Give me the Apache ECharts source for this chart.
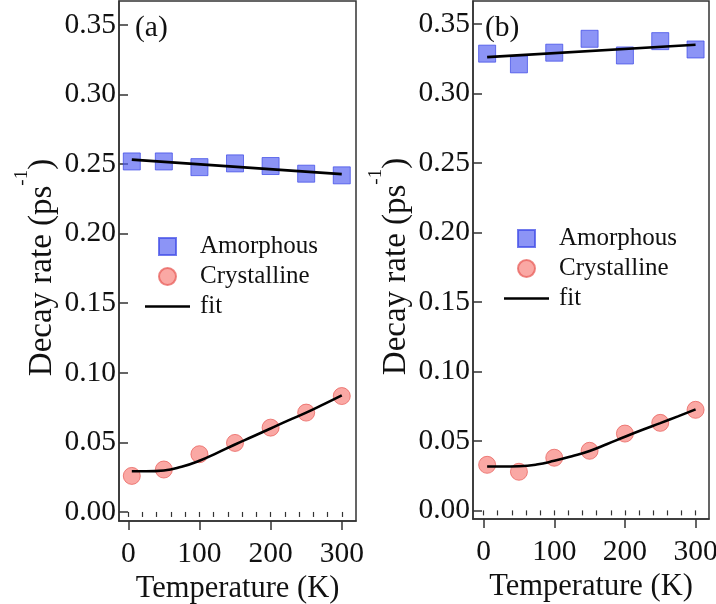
<!DOCTYPE html>
<html>
<head>
<meta charset="utf-8">
<script src="https://cdn.jsdelivr.net/npm/echarts@6/dist/echarts.min.js"></script>
<style>
  html, body { margin: 0; padding: 0; background: #fff; }
  #container { width: 716px; height: 604px; }
</style>
</head>
<body>
<div id="container"></div>
<script>
// data
var temps = [5, 50, 100, 150, 200, 250, 300];
var fitTemps = [5, 25, 50, 75, 100, 125, 150, 175, 200, 225, 250, 275, 300];

// panel (a)
var amorphA = [0.2519, 0.2519, 0.2478, 0.2505, 0.2486, 0.2431, 0.2419];
var crystA = [0.0259, 0.0305, 0.0415, 0.0496, 0.0606, 0.0714, 0.0833];
var amorphFitA = [[5, 0.2532], [300, 0.2428]];
var crystFitA = [0.0292, 0.0292, 0.0298, 0.0325, 0.0368, 0.0425, 0.0485, 0.0542, 0.0600, 0.0658, 0.0714, 0.0775, 0.0838];

// panel (b)
var amorphB = [0.3288, 0.3211, 0.3295, 0.3395, 0.3275, 0.3378, 0.3318];
var crystB = [0.0328, 0.0278, 0.0379, 0.0429, 0.0553, 0.0630, 0.0724];
var amorphFitB = [[5, 0.3263], [300, 0.3352]];
var crystFitB = [0.0316, 0.0316, 0.0318, 0.0330, 0.0357, 0.0390, 0.0428, 0.0478, 0.0530, 0.0580, 0.0628, 0.0677, 0.0727];

var yTicks = [0, 0.05, 0.10, 0.15, 0.20, 0.25, 0.30, 0.35];
var xTicks = [0, 100, 200, 300];
var xMinorTicks = [0, 20, 40, 60, 80, 100, 120, 140, 160, 180, 200, 220, 240, 260, 280, 300];

var FONT = "'Liberation Serif', 'Times New Roman', serif";
var AXIS_COLOR = '#333';

function pairs(xs, ys) {
    return xs.map(function (x, i) { return [x, ys[i]]; });
}

function majorX(grid, min, max) {
    return {
        type: 'value', gridIndex: grid, min: min, max: max,
        name: 'Temperature (K)', nameLocation: 'middle', nameGap: 47,
        nameTextStyle: { fontFamily: FONT, fontSize: 30.5, color: '#111' },
        axisLine: { show: true, onZero: false, lineStyle: { color: AXIS_COLOR, width: 1.5 } },
        axisTick: { show: true, inside: false, length: 9, customValues: xTicks, lineStyle: { color: AXIS_COLOR, width: 1.5 } },
        axisLabel: { customValues: xTicks, margin: 18, fontFamily: FONT, fontSize: 29.5, color: '#111' },
        splitLine: { show: false }
    };
}

function minorX(grid, min, max) {
    return {
        type: 'value', gridIndex: grid, min: min, max: max, position: 'bottom',
        axisLine: { show: false },
        axisTick: { show: true, inside: false, length: 5, customValues: xMinorTicks, lineStyle: { color: AXIS_COLOR, width: 1.2 } },
        axisLabel: { show: false },
        splitLine: { show: false }
    };
}

function yAx(grid, min, max) {
    return {
        type: 'value', gridIndex: grid, min: min, max: max,
        name: '{a|Decay rate (ps}{s|-1}{a|)}', nameLocation: 'middle', nameRotate: 90, nameGap: 47,
        nameTextStyle: {
            fontFamily: FONT, color: '#111', padding: [0, 13, 0, 0],
            rich: {
                a: { fontFamily: FONT, fontSize: 33, color: '#111' },
                s: { fontFamily: FONT, fontSize: 19, color: '#111', padding: [0, 0, 40, 0] }
            }
        },
        axisLine: { show: true, onZero: false, lineStyle: { color: AXIS_COLOR, width: 1.5 } },
        axisTick: { show: true, inside: true, length: 9, customValues: yTicks, lineStyle: { color: AXIS_COLOR, width: 1.5 } },
        axisLabel: {
            customValues: yTicks, margin: 3, fontFamily: FONT, fontSize: 29.5, color: '#111',
            formatter: function (v) { return v.toFixed(2); }
        },
        splitLine: { show: false }
    };
}

var squareStyle = { color: 'rgba(80, 92, 242, 0.82)', borderColor: 'rgba(60, 72, 230, 0.9)', borderWidth: 1 };
var circleStyle = { color: 'rgba(246, 110, 104, 0.75)', borderColor: 'rgba(232, 90, 86, 0.9)', borderWidth: 1 };
var fitStyle = { color: '#000', width: 2.6 };

function panelSeries(xi, yi, amorph, cryst, amorphFit, crystFit) {
    return [
        { name: 'Amorphous', type: 'scatter', xAxisIndex: xi, yAxisIndex: yi, symbol: 'rect', symbolSize: 17,
          itemStyle: squareStyle, data: pairs(temps, amorph) },
        { name: 'Crystalline', type: 'scatter', xAxisIndex: xi, yAxisIndex: yi, symbol: 'circle', symbolSize: 17,
          itemStyle: circleStyle, data: pairs(temps, cryst) },
        { name: 'fit', type: 'line', xAxisIndex: xi, yAxisIndex: yi, symbol: 'none', smooth: false,
          lineStyle: fitStyle, itemStyle: { color: '#000' }, data: amorphFit },
        { name: 'fit', type: 'line', xAxisIndex: xi, yAxisIndex: yi, symbol: 'none', smooth: true,
          lineStyle: fitStyle, itemStyle: { color: '#000' }, data: pairs(fitTemps, crystFit) }
    ];
}

function legendAt(left, top) {
    return {
        left: left, top: top, orient: 'vertical', padding: 0,
        itemWidth: 45, itemHeight: 17, itemGap: 5,
        symbolKeepAspect: true,
        data: [
            { name: 'Amorphous', icon: 'path://M0,0h17v17h-17z' },
            { name: 'Crystalline', icon: 'circle' },
            { name: 'fit', icon: 'path://M0,0h45v2.6h-45z', itemStyle: { color: '#000', borderWidth: 0 } }
        ],
        textStyle: { fontFamily: FONT, fontSize: 25, color: '#111', padding: [0, 0, 0, 5] }
    };
}

var myChart = echarts.init(document.getElementById('container'), null, { renderer: 'canvas' });

var option = {
    animation: false,
    backgroundColor: '#fff',
    title: [
        { text: '(a)', left: 130, top: 8, textStyle: { fontFamily: FONT, fontSize: 29.5, fontWeight: 'normal', color: '#111' } },
        { text: '(b)', left: 480, top: 8, textStyle: { fontFamily: FONT, fontSize: 29.5, fontWeight: 'normal', color: '#111' } }
    ],
    legend: [legendAt(145, 234), legendAt(504, 226)],
    grid: [
        { left: 119, top: 1, width: 237, height: 520, show: true, borderColor: AXIS_COLOR, borderWidth: 1.5,
          backgroundColor: 'transparent', outerBoundsMode: 'none', containLabel: false },
        { left: 473, top: 1, width: 236, height: 518, show: true, borderColor: AXIS_COLOR, borderWidth: 1.5,
          backgroundColor: 'transparent', outerBoundsMode: 'none', containLabel: false }
    ],
    xAxis: [majorX(0, -13, 320), minorX(0, -13, 320), majorX(1, -15, 319), minorX(1, -15, 319)],
    yAxis: [yAx(0, -0.0065, 0.3672), yAx(1, -0.0062, 0.3667)],
    series: panelSeries(0, 0, amorphA, crystA, amorphFitA, crystFitA)
        .concat(panelSeries(2, 1, amorphB, crystB, amorphFitB, crystFitB))
};

myChart.setOption(option);
window.addEventListener('resize', myChart.resize);
</script>
</body>
</html>
